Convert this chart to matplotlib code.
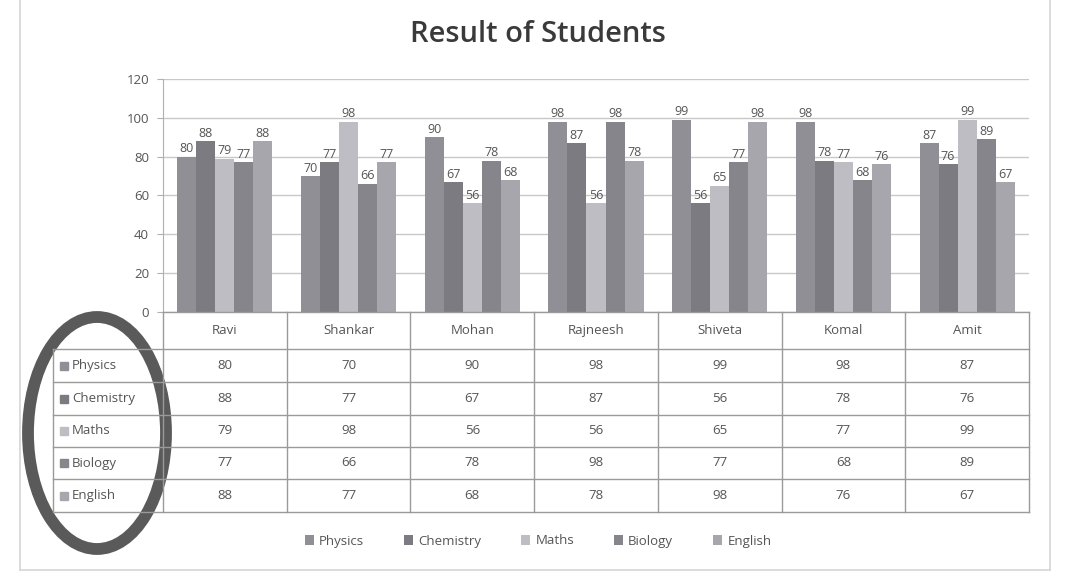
import numpy as np
import matplotlib.pyplot as plt
from matplotlib.patches import Ellipse, Rectangle

plt.rcParams['font.family'] = ['Open Sans', 'DejaVu Sans']

students = ["Ravi", "Shankar", "Mohan", "Rajneesh", "Shiveta", "Komal", "Amit"]
subjects = ["Physics", "Chemistry", "Maths", "Biology", "English"]
physics = [80, 70, 90, 98, 99, 98, 87]
chemistry = [88, 77, 67, 87, 56, 78, 76]
maths = [79, 98, 56, 56, 65, 77, 99]
biology = [77, 66, 78, 98, 77, 68, 89]
english = [88, 77, 68, 78, 98, 76, 67]
scores = [physics, chemistry, maths, biology, english]
colors = ["#8f8f95", "#7b7b81", "#bdbdc3", "#85858b", "#a6a6ac"]
yticks = [0, 20, 40, 60, 80, 100, 120]

W, H = 1081, 580
fig = plt.figure(figsize=(W / 100, H / 100), dpi=100)

# pixel layout
ax_l, ax_r, ax_t, ax_b = 163, 1029, 79, 312
ax = fig.add_axes([ax_l / W, 1 - ax_b / H, (ax_r - ax_l) / W, (ax_b - ax_t) / H])

x = np.arange(len(students))
bw = 0.154
text_col = "#555555"
for i, (name, vals) in enumerate(zip(subjects, scores)):
    bars = ax.bar(x + (i - 2) * bw, vals, bw, color=colors[i], label=name, zorder=3)
    ax.bar_label(bars, labels=[str(v) for v in vals], padding=1, fontsize=9,
                 color=text_col, zorder=4)

ax.set_xlim(-0.5, len(students) - 0.5)
ax.set_ylim(0, 120)
ax.set_yticks(yticks)
ax.set_yticklabels([str(t) for t in yticks], fontsize=9.5, color=text_col)
ax.set_xticks([])
ax.yaxis.grid(True, color="#c8c8c8", linewidth=1, zorder=0)
for s in ["top", "right", "bottom"]:
    ax.spines[s].set_visible(False)
ax.spines["left"].set_color("#b0b0b0")
ax.tick_params(axis="y", length=4, color="#b0b0b0", pad=6)

# overlay in pixel coordinates for the data table, frame and ellipse
ov = fig.add_axes([0, 0, 1, 1], zorder=5)
ov.set_xlim(0, W)
ov.set_ylim(H, 0)
ov.axis("off")

line_col = "#9a9a9a"
col_w = (ax_r - ax_l) / len(students)
row_edges = [312, 349, 382, 415, 447, 479, 512]
lab_l = 53

# horizontal lines
ov.plot([ax_l, ax_r], [row_edges[0]] * 2, color=line_col, lw=1)
for y in row_edges[1:]:
    ov.plot([lab_l, ax_r], [y, y], color=line_col, lw=1)
# vertical lines
for j in range(len(students) + 1):
    xx = ax_l + j * col_w
    ov.plot([xx, xx], [row_edges[0], row_edges[-1]], color=line_col, lw=1)
ov.plot([lab_l, lab_l], [row_edges[1], row_edges[-1]], color=line_col, lw=1)

for j, st in enumerate(students):
    cx = ax_l + (j + 0.5) * col_w
    ov.text(cx, (row_edges[0] + row_edges[1]) / 2, st, ha="center", va="center",
            fontsize=9.5, color=text_col)
    for i, vals in enumerate(scores):
        cy = (row_edges[i + 1] + row_edges[i + 2]) / 2
        ov.text(cx, cy, str(vals[j]), ha="center", va="center", fontsize=9.5,
                color=text_col)

for i, name in enumerate(subjects):
    cy = (row_edges[i + 1] + row_edges[i + 2]) / 2
    ov.add_patch(Rectangle((60, cy - 4), 8, 8, color=colors[i]))
    ov.text(72, cy, name, ha="left", va="center", fontsize=9.5, color=text_col)

# ellipse drawn around the row labels
ov.add_patch(Ellipse((97, 433), 138, 232, fill=False, edgecolor="#5a5a5a", lw=8.5))

# outer frame
fc = "#d6d6d6"
ov.plot([20, 20], [0, 570], color=fc, lw=1.2)
ov.plot([1050, 1050], [0, 570], color=fc, lw=1.2)
ov.plot([20, 1050], [570, 570], color=fc, lw=1.2)

fig.text(538 / W, 1 - 35 / H, "Result of Students", ha="center", va="center",
         fontsize=21, fontweight="semibold", color="#3a3a3a")

handles, labels = ax.get_legend_handles_labels()
fig.legend(handles, labels, loc="center", bbox_to_anchor=(538 / W, 1 - 541 / H),
           ncol=5, frameon=False, fontsize=9.5, labelcolor=text_col,
           handlelength=0.7, handleheight=0.7, handletextpad=0.4, columnspacing=3.0)

fig.savefig("out.png", dpi=100, facecolor="white")
